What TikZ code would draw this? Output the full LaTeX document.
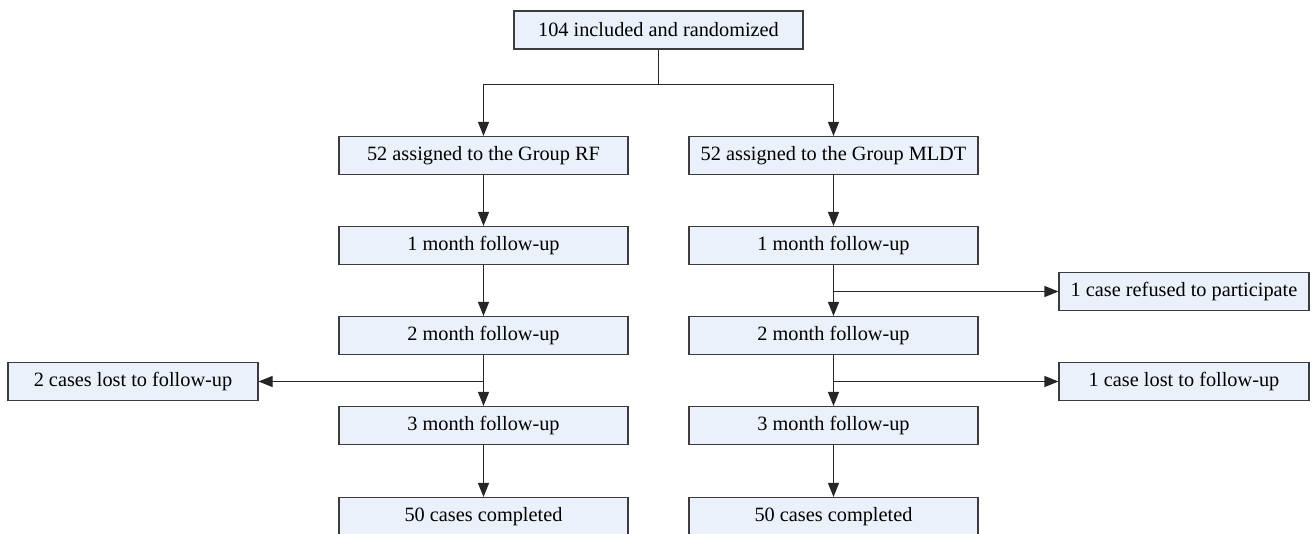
\documentclass[tikz,border=0pt]{standalone}
\usepackage{fontspec}
\setmainfont{Liberation Serif}
\usetikzlibrary{arrows.meta}
\definecolor{boxfill}{RGB}{234,241,250}
\definecolor{boxline}{RGB}{60,60,60}
\begin{document}
\begin{tikzpicture}[x=1pt,y=-1pt,
  box/.style={draw=boxline,fill=boxfill,line width=1.1pt,minimum height=38pt,inner sep=0pt,font=\fontsize{20.3}{24}\selectfont},
  colbox/.style={box,minimum width=289pt},
  sidebox/.style={box,minimum width=250pt},
  arr/.style={line width=1.1pt,draw=black!85,-{Triangle[length=14pt,width=11pt]}},
  ln/.style={line width=1.1pt,draw=black!85}]
\useasboundingbox (0,0) rectangle (1313,534);
\node[colbox] (top) at (658.5,30) {104 included and randomized};
\node[colbox] (rf) at (483.5,155.5) {52 assigned to the Group RF};
\node[colbox] (ml) at (833.5,155.5) {52 assigned to the Group MLDT};
\node[colbox] (rf1) at (483.5,245.5) {1 month follow-up};
\node[colbox] (ml1) at (833.5,245.5) {1 month follow-up};
\node[colbox] (rf2) at (483.5,335.5) {2 month follow-up};
\node[colbox] (ml2) at (833.5,335.5) {2 month follow-up};
\node[colbox] (rf3) at (483.5,425.5) {3 month follow-up};
\node[colbox] (ml3) at (833.5,425.5) {3 month follow-up};
\node[colbox] (rf4) at (483.5,516.5) {50 cases completed};
\node[colbox] (ml4) at (833.5,516.5) {50 cases completed};
\node[sidebox] (refused) at (1184,291.5) {1 case refused to participate};
\node[sidebox] (lostr) at (1184,381.5) {1 case lost to follow-up};
\node[sidebox] (lostl) at (133,381.5) {2 cases lost to follow-up};
\coordinate (split) at (658.5,84.5);
\coordinate (br) at (833.5,291.5);
\coordinate (br2) at (833.5,381.5);
\coordinate (bl) at (483.5,381.5);
\draw[ln] (top) -- (split);
\draw[arr] (split) -| (rf);
\draw[arr] (split) -| (ml);
\draw[arr] (rf) -- (rf1);
\draw[arr] (rf1) -- (rf2);
\draw[arr] (rf2) -- (rf3);
\draw[arr] (rf3) -- (rf4);
\draw[arr] (ml) -- (ml1);
\draw[arr] (ml1) -- (ml2);
\draw[arr] (ml2) -- (ml3);
\draw[arr] (ml3) -- (ml4);
\draw[arr] (br) -- (refused);
\draw[arr] (br2) -- (lostr);
\draw[arr] (bl) -- (lostl);
\end{tikzpicture}
\end{document}
